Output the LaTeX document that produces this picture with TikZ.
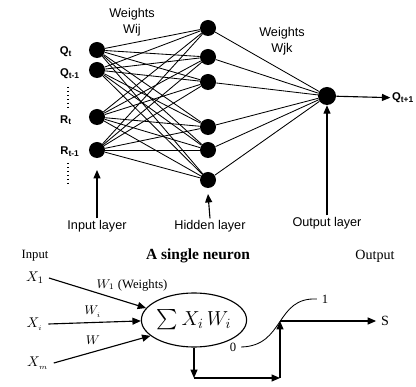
\documentclass[tikz,border=0pt]{standalone}
\usepackage{amsmath}
\usepackage{fontspec}
\setmainfont{Liberation Serif}
\setsansfont{Liberation Sans}
\usetikzlibrary{arrows.meta,shapes.geometric}

\tikzset{
  neuron/.style={circle,fill=black,inner sep=0pt,minimum size=0.4cm},
  tag/.style={font=\sffamily\small,inner sep=1pt},
  qtag/.style={font=\sffamily\footnotesize\bfseries,inner sep=1pt},
  arr/.style={-{Triangle[length=6pt,width=5pt]},thick},
}

\begin{document}
\begin{tikzpicture}[x=0.025cm,y=-0.025cm]
    \useasboundingbox (0,0) rectangle (416,387);
    % top: network
    \node[neuron] (in1) at (97,50) {};
    \node[neuron] (in2) at (97,70) {};
    \node[neuron] (in3) at (97,117) {};
    \node[neuron] (in4) at (97,150) {};
    \foreach \n/\y in {1/28,2/57,3/82,4/127,5/150,6/180}
      \node[neuron] (hid\n) at (208,\y) {};
    \node[neuron,minimum size=0.45cm] (out) at (327,96) {};
    \foreach \i in {1,...,4}
      \foreach \j in {1,...,6}
        \draw[semithick] (in\i) -- (hid\j);
    \foreach \j in {1,...,6}
      \draw[semithick] (hid\j) -- (out);
    \node[qtag] (lq1) at (66,52) {Q$_\text{t}$};
    \node[qtag] (lq2) at (70,74) {Q$_\text{t-1}$};
    \node[qtag] (lr1) at (66,120) {R$_\text{t}$};
    \node[qtag] (lr2) at (70,152) {R$_\text{t-1}$};
    \draw[dotted,thick] (68,87) -- (68,110);
    \draw[dotted,thick] (68,163) -- (68,185);
    \node[tag,align=center] (wij) at (132,22) {Weights\\Wij};
    \node[tag,align=center] (wjk) at (282,41) {Weights\\Wjk};
    \node[qtag] (qout) at (403,98) {Q$_\text{t+1}$};
    \draw[arr] (out) -- (qout);
    \node[tag] (linput) at (97,226) {Input layer};
    \node[tag] (lhidden) at (210,226) {Hidden layer};
    \node[tag] (loutput) at (327,223) {Output layer};
    \coordinate (hidtip) at (208,194);
    \draw[arr] (linput.north) -- (in4.south |- 0,170);
    \draw[arr] (lhidden.north) -- (hidtip);
    \draw[arr] (loutput.north) -- (out.south);
    % bottom: a single neuron
    \node[font=\small] (tinput) at (35,256) {Input};
    \node[font=\fontsize{11}{13}\selectfont\bfseries] (ttitle) at (198,256) {A single neuron};
    \node[font=\normalsize] (toutput) at (375,256) {Output};
    \node[draw,thick,ellipse,minimum width=2cm,minimum height=1.35cm,inner sep=0pt,
          font=\Large] (sum) at (194,320) {$\sum X_i\,W_i$};
    \node (x1) at (35,278) {$X_1$};
    \node (xi) at (35,324) {$X_{_i}$};
    \node (xm) at (38,363) {$X_{_m}$};
    \draw[arr] (x1.east) -- (sum.166);
    \draw[arr] (xi.east) -- (sum.181);
    \draw[arr] (xm.east) -- (sum.200);
    \node[font=\small] (w1) at (132,285) {$W_1$ (Weights)};
    \node[font=\small] (wi) at (93,312) {$W_{_i}$};
    \node[font=\small] (wm) at (93,340) {$W$};
    \coordinate (turn) at (sum.south |- 0,378);
    \coordinate (corner) at (280,378);
    \coordinate (knee) at (280,321);
    \node[font=\small] (zero) at (233,347) {0};
    \node[font=\small] (one) at (325,299) {1};
    \node (s) at (385,321) {S};
    \draw[semithick] (zero.east) .. controls (285,346) and (275,297) .. (one.west);
    \draw[arr] (sum.south) -- (turn);
    \draw[arr] (turn) -- (corner);
    \draw[arr] (corner) -- (knee);
    \draw[arr] (knee) -- (s);
\end{tikzpicture}
\end{document}
